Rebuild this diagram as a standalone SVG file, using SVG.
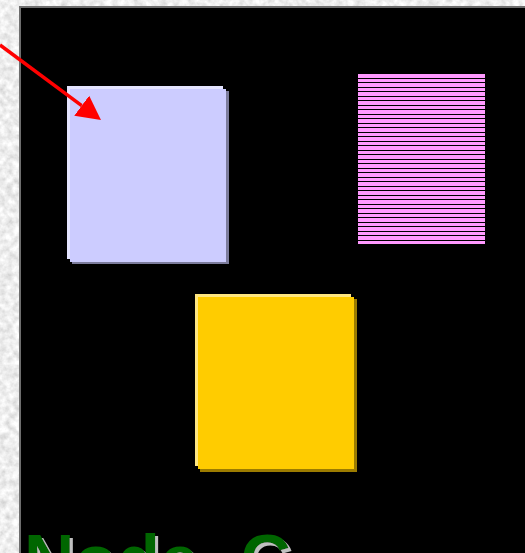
<svg xmlns="http://www.w3.org/2000/svg" width="525" height="553" viewBox="0 0 525 553">
  <style>
    .hl-a { fill: #e4e4ff; }
    .main-a { fill: #ccccff; }
    .sh-a { fill: #7c7c9c; }
    .hl-c { fill: #ffe680; }
    .main-c { fill: #ffcc00; }
    .sh-c { fill: #9c7c00; }
    .conn { stroke: #ff0000; stroke-width: 3.5; fill: none; }
    .lbl { font-family: "Liberation Sans", Arial, sans-serif; font-weight: bold; font-size: 70px; }
  </style>
  <defs>
    <filter id="marble" x="0" y="0" width="100%" height="100%" filterUnits="objectBoundingBox">
      <feTurbulence type="fractalNoise" baseFrequency="0.15" numOctaves="3" seed="7"/>
      <feColorMatrix type="matrix" values="0.55 0 0 0 0.58  0.55 0 0 0 0.58  0.55 0 0 0 0.58  0 0 0 0 1"/>
    </filter>
    <filter id="txtshadow" x="-10%" y="-10%" width="130%" height="130%">
      <feOffset in="SourceAlpha" dx="3" dy="3" result="off"/>
      <feFlood flood-color="#c0c0c0"/>
      <feComposite in2="off" operator="in" result="sh"/>
      <feMerge>
        <feMergeNode in="sh"/>
        <feMergeNode in="SourceGraphic"/>
      </feMerge>
    </filter>
    <pattern id="stripes" patternUnits="userSpaceOnUse" x="0" y="74" width="10" height="9">
      <rect x="0" y="0" width="10" height="9" fill="#ff99ff"/>
      <rect x="0" y="4" width="10" height="1" fill="#000000"/>
      <rect x="0" y="8" width="10" height="1" fill="#000000"/>
    </pattern>
    <marker id="head" markerUnits="userSpaceOnUse" markerWidth="25" markerHeight="26" refX="0" refY="12.5" orient="auto" viewBox="0 0 25 26">
      <path d="M0,0 L24,12.5 L0,25 Z" fill="#ff0000"/>
    </marker>
  </defs>

  <rect x="0" y="0" width="525" height="553" fill="#e6e6e6" filter="url(#marble)"/>
  <rect x="19" y="6" width="506" height="547" fill="#6e6e6e"/>
  <rect x="21" y="8" width="504" height="545" fill="#000000"/>

  <g id="node-a">
    <rect class="sh-a" x="72" y="91" width="157" height="173"/>
    <rect class="hl-a" x="67" y="86" width="156" height="173"/>
    <rect class="main-a" x="70" y="89" width="156" height="173"/>
  </g>

  <g id="node-b">
    <rect x="358" y="74" width="127" height="170" fill="url(#stripes)" shape-rendering="crispEdges"/>
  </g>

  <g id="node-c">
    <rect class="sh-c" x="200" y="299" width="157" height="173"/>
    <rect class="hl-c" x="195" y="294" width="156" height="172"/>
    <rect class="main-c" x="198" y="297" width="156" height="172"/>
  </g>

  <g id="label-node-c">
    <text class="lbl" x="24" y="584" fill="#006600" word-spacing="22" filter="url(#txtshadow)">Node C</text>
  </g>

  <g id="connectors">
    <line class="conn" x1="0" y1="45" x2="81.7" y2="105.7" marker-end="url(#head)"/>
  </g>
</svg>
